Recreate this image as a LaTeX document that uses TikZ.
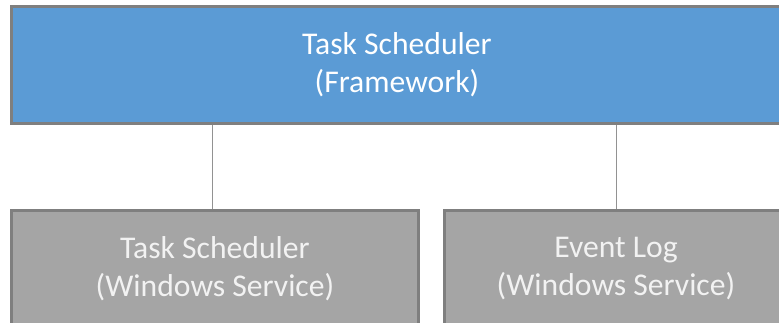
\documentclass[tikz,border=0pt]{standalone}
\usepackage{fontspec}
\setmainfont{Carlito}
\usetikzlibrary{positioning,calc}
\definecolor{schedblue}{HTML}{5B9BD5}
\definecolor{servgray}{HTML}{A5A5A5}
\definecolor{edgegray}{HTML}{7F7F7F}
\tikzset{
  box/.style      = {draw=edgegray, line width=0.075cm, rectangle, align=center,
                     minimum height=2.9cm, inner sep=0pt,
                     font=\fontsize{22.5}{27}\selectfont},
  framework/.style = {box, fill=schedblue, text=white, minimum width=19.25cm},
  service/.style   = {box, fill=servgray, text=white!95!black},
  link/.style      = {draw=edgegray!85, line width=0.025cm}
}

\begin{document}
\begin{tikzpicture}[x=0.025cm, y=-0.025cm]
      \useasboundingbox (0,0) rectangle (779,323);
      \clip (0,0) rectangle (779,323);
      \node[framework] (fw) at (397,65) {Task Scheduler\\(Framework)};
      \node[service, minimum width=10.15cm] (tss) at (215,269) {Task Scheduler\\(Windows Service)};
      \node[service, minimum width=8.55cm] (evl) at (616,269) {Event Log\\(Windows Service)};
      \draw[link] ([xshift=-2]tss.north) -- ([xshift=-2]tss.north |- fw.south);
      \draw[link] (evl.north) -- (evl.north |- fw.south);
    \end{tikzpicture}
\end{document}
